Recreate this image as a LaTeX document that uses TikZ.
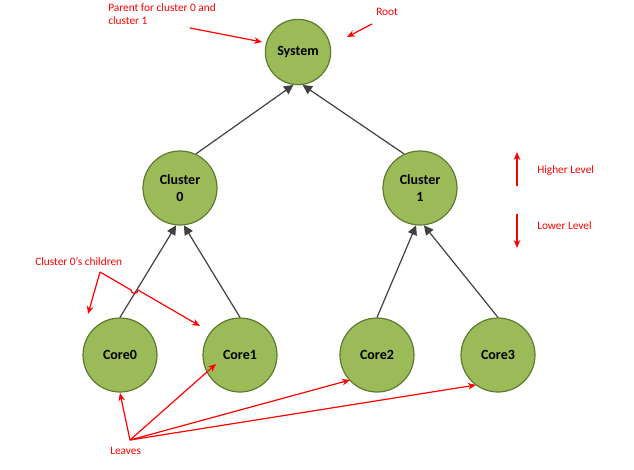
\documentclass[tikz,border=0pt]{standalone}
\usepackage{fontspec}
\setmainfont{Carlito}
\usetikzlibrary{arrows.meta}
\definecolor{nfill}{HTML}{9BBB59}
\definecolor{nline}{HTML}{5E7A2E}
\definecolor{ared}{HTML}{FF0000}
\begin{document}
\begin{tikzpicture}[x=0.75pt,y=-0.75pt,
  nd/.style={circle,draw=nline,fill=nfill,line width=0.9pt,font=\bfseries\fontsize{10.5}{13}\selectfont,align=center,inner sep=0pt},
  big/.style={nd,minimum size=55.5pt},
  sm/.style={nd,minimum size=49pt},
  ed/.style={draw=black!75,line width=0.9pt,-{Triangle[width=7pt,length=7pt]}},
  an/.style={draw=ared,line width=0.9pt,-{Stealth[width=5pt,length=6pt]}},
  lb/.style={text=ared,font=\fontsize{8.5}{10}\selectfont,align=left,inner sep=0pt}]
\useasboundingbox (0,0) rectangle (634,469);
\node[sm] (sys) at (298,52) {System};
\node[big] (c0) at (180,188) {Cluster\\0};
\node[big] (c1) at (420,188) {Cluster\\1};
\node[big] (k0) at (120,355) {Core0};
\node[big] (k1) at (240,355) {Core1};
\node[big] (k2) at (377,355) {Core2};
\node[big] (k3) at (498,355) {Core3};
\draw[ed] (c0.65) -- (sys.-98);
\draw[ed] (c1.115) -- (sys.-82);
\draw[ed] (k0.north) -- (c0.-96);
\draw[ed] (k1.north) -- (c0.-84);
\draw[ed] (k2.north) -- (c1.-96);
\draw[ed] (k3.north) -- (c1.-84);
% annotations
\node[lb,anchor=north west] (tp) at (108,3) {Parent for cluster 0 and\\cluster 1};
\coordinate (tpa) at (190,28);
\draw[an] (tpa) -- (262,42);
\node[lb,anchor=north west] (rt) at (376,8) {Root};
\coordinate (rta) at (372,24);
\draw[an] (rta) -- (347,37);
\coordinate (hu1) at (517,186);
\coordinate (hu2) at (517,152);
\draw[an] (hu1) -- (hu2);
\node[lb,anchor=west] (hl) at (537,171) {Higher Level};
\coordinate (lo1) at (517,214);
\coordinate (lo2) at (517,248);
\draw[an] (lo1) -- (lo2);
\node[lb,anchor=west] (ll) at (537,226) {Lower Level};
\node[lb,anchor=north west] (ch) at (35,257) {Cluster 0's children};
\coordinate (cha) at (100,272);
\draw[an] (cha) -- (88,314);
\draw[an] (cha) -- (131,290) arc[start angle=180,end angle=0,radius=3.5] -- (200,326);
\node[lb,anchor=north west] (lv) at (110,447) {Leaves};
\coordinate (lva) at (130,440);
\draw[an] (lva) -- (120,393);
\draw[an] (lva) -- (216,364);
\draw[an] (lva) -- (350,380);
\draw[an] (lva) -- (476,385);
\end{tikzpicture}
\end{document}
